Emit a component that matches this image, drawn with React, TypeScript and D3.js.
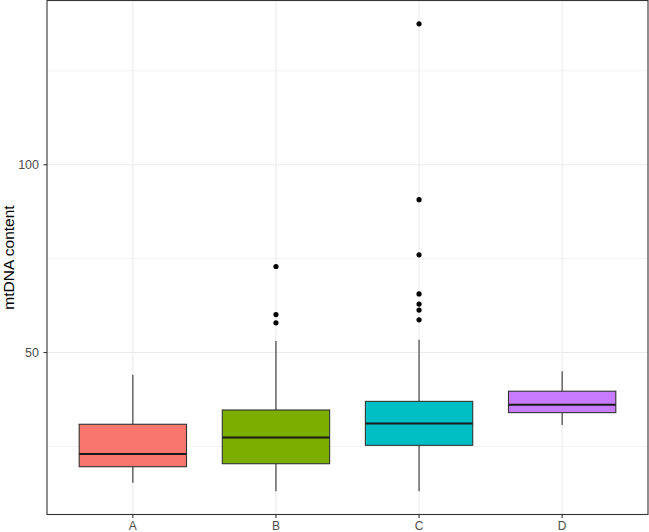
import React from "react";
import * as d3 from "d3";

// groups and their box stats
const groups = ["A", "B", "C", "D"];
const fills = ["#F8766D", "#7CAE00", "#00BFC4", "#C77CFF"];
const lowerWhisker = [15.3, 13.1, 13.1, 30.7];
const q1 = [19.6, 20.4, 25.3, 34.0];
const median = [23.0, 27.4, 31.1, 36.1];
const q3 = [30.9, 34.7, 37.0, 39.7];
const upperWhisker = [44.1, 53.1, 53.4, 45.0];
const outliers = [
  [],
  [72.9, 60.1, 57.9],
  [137.5, 90.7, 76.0, 65.6, 62.9, 61.3, 58.7],
  [],
];
const majorTicks = [50, 100];
const minorTicks = [25, 75, 125];

const width = 649;
const height = 532;
const marginLeft = 47;
const marginRight = 1;
const marginTop = 0.5;
const marginBottom = 17.5;

export default function App() {
  const allVals = [...lowerWhisker, ...upperWhisker, ...outliers.flat()];
  const [lo, hi] = d3.extent(allVals) as [number, number];
  const pad = (hi - lo) * 0.05;

  const y = d3
    .scaleLinear()
    .domain([lo - pad, hi + pad])
    .range([height - marginBottom, marginTop]);

  const x = d3
    .scaleBand()
    .domain(groups)
    .range([marginLeft, width - marginRight])
    .paddingOuter(0.1)
    .paddingInner(0);

  const cx = (g: string) => (x(g) as number) + x.bandwidth() / 2;
  const boxW = x.bandwidth() * 0.75;
  const left = marginLeft;
  const right = width - marginRight;
  const top = marginTop;
  const bottom = height - marginBottom;
  const ink = "#333333";

  return (
    <svg
      width={width}
      height={height}
      style={{ position: "absolute", left: 0, top: 0, background: "#fff" }}
      fontFamily="Liberation Sans, Arial, sans-serif"
    >
      {/* grid */}
      <g strokeWidth={0.6} stroke="#EBEBEB">
        {minorTicks.map((t) => (
          <line key={"mi" + t} x1={left} x2={right} y1={y(t)} y2={y(t)} />
        ))}
      </g>
      <g strokeWidth={1.1} stroke="#EBEBEB">
        {majorTicks.map((t) => (
          <line key={"ma" + t} x1={left} x2={right} y1={y(t)} y2={y(t)} />
        ))}
        {groups.map((g) => (
          <line key={"v" + g} x1={cx(g)} x2={cx(g)} y1={top} y2={bottom} />
        ))}
      </g>

      {/* boxes */}
      {groups.map((g, i) => (
        <g key={g}>
          <line
            x1={cx(g)}
            x2={cx(g)}
            y1={y(upperWhisker[i])}
            y2={y(q3[i])}
            stroke={ink}
            strokeWidth={1.1}
          />
          <line
            x1={cx(g)}
            x2={cx(g)}
            y1={y(q1[i])}
            y2={y(lowerWhisker[i])}
            stroke={ink}
            strokeWidth={1.1}
          />
          <rect
            x={cx(g) - boxW / 2}
            width={boxW}
            y={y(q3[i])}
            height={y(q1[i]) - y(q3[i])}
            fill={fills[i]}
            stroke={ink}
            strokeWidth={1.1}
          />
          <line
            x1={cx(g) - boxW / 2}
            x2={cx(g) + boxW / 2}
            y1={y(median[i])}
            y2={y(median[i])}
            stroke="#1a1a1a"
            strokeWidth={2}
          />
          {outliers[i].map((v, j) => (
            <circle key={j} cx={cx(g)} cy={y(v)} r={2.6} fill="#000" />
          ))}
        </g>
      ))}

      {/* panel border */}
      <rect
        x={left}
        y={top}
        width={right - left}
        height={bottom - top}
        fill="none"
        stroke={ink}
        strokeWidth={1.1}
      />

      {/* y axis */}
      {majorTicks.map((t) => (
        <g key={"yt" + t}>
          <line x1={left - 3.5} x2={left} y1={y(t)} y2={y(t)} stroke={ink} strokeWidth={1.1} />
          <text
            x={left - 8}
            y={y(t)}
            dy="0.36em"
            textAnchor="end"
            fontSize={12.5}
            fill="#4D4D4D"
          >
            {t}
          </text>
        </g>
      ))}

      {/* x axis */}
      {groups.map((g) => (
        <g key={"xt" + g}>
          <line x1={cx(g)} x2={cx(g)} y1={bottom} y2={bottom + 3.5} stroke={ink} strokeWidth={1.1} />
          <text x={cx(g)} y={bottom + 15.5} textAnchor="middle" fontSize={12} fill="#4D4D4D">
            {g}
          </text>
        </g>
      ))}

      {/* y title */}
      <text
        transform={`translate(14,${(top + bottom) / 2}) rotate(-90)`}
        textAnchor="middle"
        fontSize={15.5}
        fill="#000"
      >
        mtDNA content
      </text>
    </svg>
  );
}
